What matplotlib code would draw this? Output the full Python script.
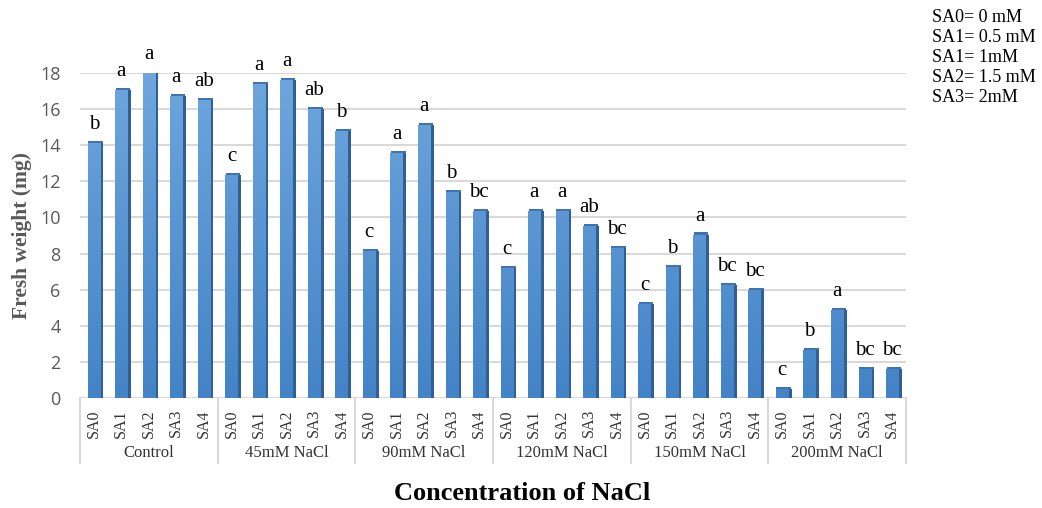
import numpy as np
import matplotlib
matplotlib.use("Agg")
import matplotlib.pyplot as plt
from matplotlib.transforms import blended_transform_factory

# data
groups = ["Control", "45mM NaCl", "90mM NaCl", "120mM NaCl", "150mM NaCl", "200mM NaCl"]
treatments = ["SA0", "SA1", "SA2", "SA3", "SA4"]
control = [14.1, 17.05, 18.0, 16.7, 16.5]
nacl_45 = [12.35, 17.4, 17.6, 16.0, 14.8]
nacl_90 = [8.15, 13.55, 15.1, 11.4, 10.35]
nacl_120 = [7.2, 10.35, 10.35, 9.5, 8.3]
nacl_150 = [5.2, 7.27, 9.05, 6.25, 6.0]
nacl_200 = [0.5, 2.65, 4.87, 1.6, 1.6]
letters = [["b", "a", "a", "a", "ab"],
           ["c", "a", "a", "ab", "b"],
           ["c", "a", "a", "b", "bc"],
           ["c", "a", "a", "ab", "bc"],
           ["c", "b", "a", "bc", "bc"],
           ["c", "b", "a", "bc", "bc"]]
legend_lines = ["SA0= 0 mM", "SA1= 0.5 mM", "SA1= 1mM", "SA2= 1.5 mM", "SA3= 2mM"]

values = [control, nacl_45, nacl_90, nacl_120, nacl_150, nacl_200]
serif = "Liberation Serif"

fig = plt.figure(figsize=(10.42, 5.08), dpi=100)
ax = fig.add_axes([80 / 1042, 1 - 398 / 508, 826 / 1042, 325 / 508])

ng, nt = len(groups), len(treatments)
x = np.arange(ng * nt)
y = np.concatenate(values)
w = 0.45

# gradient used to fill each bar
grad = np.linspace(0, 1, 256).reshape(-1, 1)
cmap = matplotlib.colors.LinearSegmentedColormap.from_list("bl", ["#4383C6", "#6FA6DD"])

# side face (3D look)
ax.bar(x + w / 2 + 0.06, y, width=0.12, color="#2F5F93", zorder=2)
bars = ax.bar(x, y, width=w, color="#5B9BD5", zorder=3)
for b in bars:
    im = ax.imshow(grad, extent=[-0.5, ng * nt - 0.5, 0, 18], origin="lower",
                   cmap=cmap, aspect="auto", zorder=3)
    im.set_clip_path(b)
ax.bar(x + 0.06, 0.12, bottom=y, width=w + 0.08, color="#3F74AE", zorder=4)

for xi, yi, lab in zip(x, y, np.concatenate(letters)):
    ax.text(xi, yi + 0.5, lab, ha="center", va="bottom", fontsize=15,
            family=serif, color="black", clip_on=False)

ax.set_xlim(-0.5, ng * nt - 0.5)
ax.set_ylim(0, 18)
ax.set_yticks(np.arange(0, 19, 2))
ax.tick_params(axis="y", length=0, labelsize=13, labelcolor="#595959", pad=14)
for t in ax.get_yticklabels():
    t.set_family("Open Sans")
ax.yaxis.grid(True, color="#D9D9D9", lw=1.5, zorder=0)
ax.set_axisbelow(True)
for s in ax.spines.values():
    s.set_visible(False)
ax.axhline(0, color="#D9D9D9", lw=1.5, zorder=1)

ax.set_xticks(x)
ax.set_xticklabels(treatments * ng, rotation=90, fontsize=11.5, family=serif, color="#333333")
ax.tick_params(axis="x", length=0, pad=8)

trans = blended_transform_factory(ax.transData, ax.transAxes)
for g in range(ng + 1):
    ax.plot([g * nt - 0.5] * 2, [0, -0.2], color="#D9D9D9", lw=1.5,
            transform=trans, clip_on=False)
for g, name in enumerate(groups):
    ax.text(g * nt + (nt - 1) / 2, -0.17, name, transform=trans, ha="center",
            va="center", fontsize=12, family=serif, color="#333333")

ax.set_ylabel("Fresh weight (mg)", fontsize=15.5, family=serif, weight="bold",
              color="#595959", labelpad=6)
fig.text(522 / 1042, 1 - 493 / 508, "Concentration of NaCl", ha="center", va="center",
         fontsize=19, family=serif, weight="bold")

for i, line in enumerate(legend_lines):
    fig.text(932 / 1042, 1 - (18 + i * 20) / 508, line, ha="left", va="center",
             fontsize=13, family=serif)

fig.savefig("out.png", dpi=100)
